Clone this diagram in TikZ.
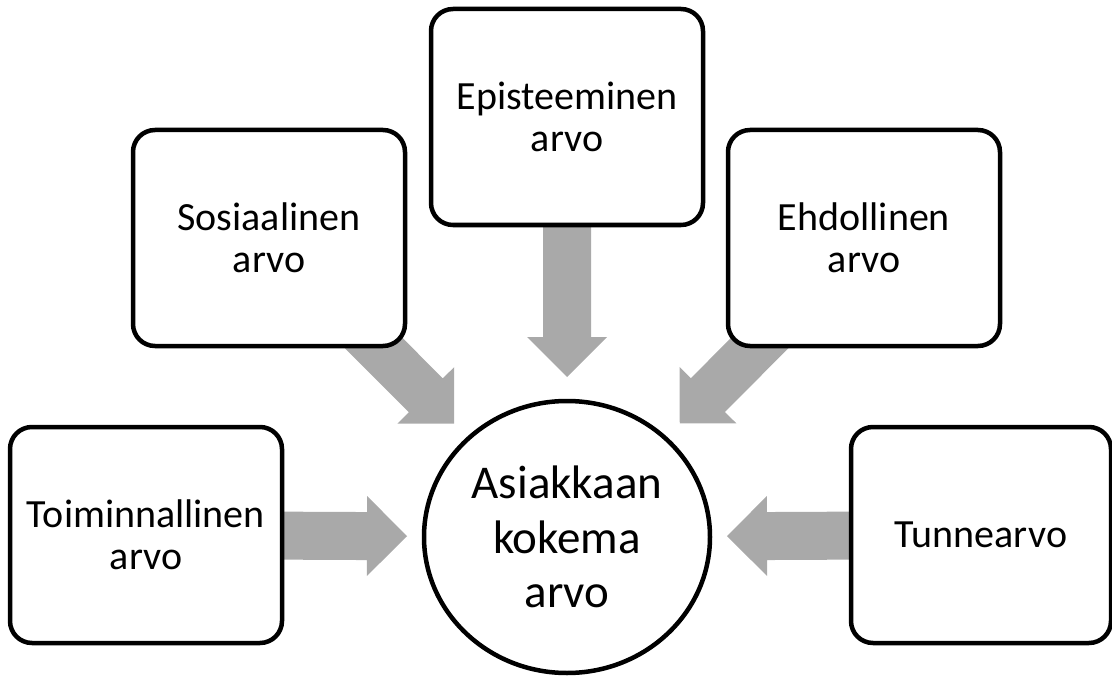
\documentclass[tikz,border=0pt]{standalone}
\usepackage{fontspec}
\setmainfont{Carlito}
\usetikzlibrary{calc,shapes.geometric,backgrounds}
\definecolor{arrowgray}{HTML}{A9A9A9}

% block arrow from a value box towards the centre, tip 160pt short of it
\newcommand\valueflow[2]{%
  \coordinate (tip) at ($(#2)!160pt!(#1)$);
  \coordinate (neck) at ($(tip)!40pt!(#1)$);
  \fill[arrowgray] ($(#1)!24pt!90:(tip)$) -- ($(neck)!24pt!90:(tip)$)
    -- ($(neck)!40pt!90:(tip)$) -- (tip) -- ($(neck)!40pt!-90:(tip)$)
    -- ($(neck)!24pt!-90:(tip)$) -- ($(#1)!24pt!-90:(tip)$) -- cycle;
}

\begin{document}
\begin{tikzpicture}[x=1pt,y=-1pt,
    valuebox/.style={draw,line width=4.5pt,rounded corners=22pt,fill=white,
      minimum width=272pt,minimum height=216pt,inner sep=0pt,align=center,
      font=\fontsize{40}{42}\selectfont}]
    \useasboundingbox (0,0) rectangle (1112,682);
    \node[draw,ellipse,line width=4.5pt,minimum width=286pt,minimum height=272pt,
      inner sep=0pt,align=center,font=\fontsize{47}{54.5}\selectfont]
      (asi) at (567,537) {Asiakkaan\\kokema\\arvo};
    \node[valuebox] (toi) at (146,535) {Toiminnallinen\\arvo};
    \node[valuebox] (sos) at (269,238) {Sosiaalinen\\arvo};
    \node[valuebox] (epi) at (567,117) {Episteeminen\\arvo};
    \node[valuebox] (ehd) at (864,238) {Ehdollinen\\arvo};
    \node[valuebox,minimum width=260pt] (tun) at (981,535) {Tunnearvo};
    \begin{pgfonlayer}{background}
      \valueflow{toi}{asi}
      \valueflow{sos}{asi}
      \valueflow{epi}{asi}
      \valueflow{ehd}{asi}
      \valueflow{tun}{asi}
    \end{pgfonlayer}
\end{tikzpicture}
\end{document}
